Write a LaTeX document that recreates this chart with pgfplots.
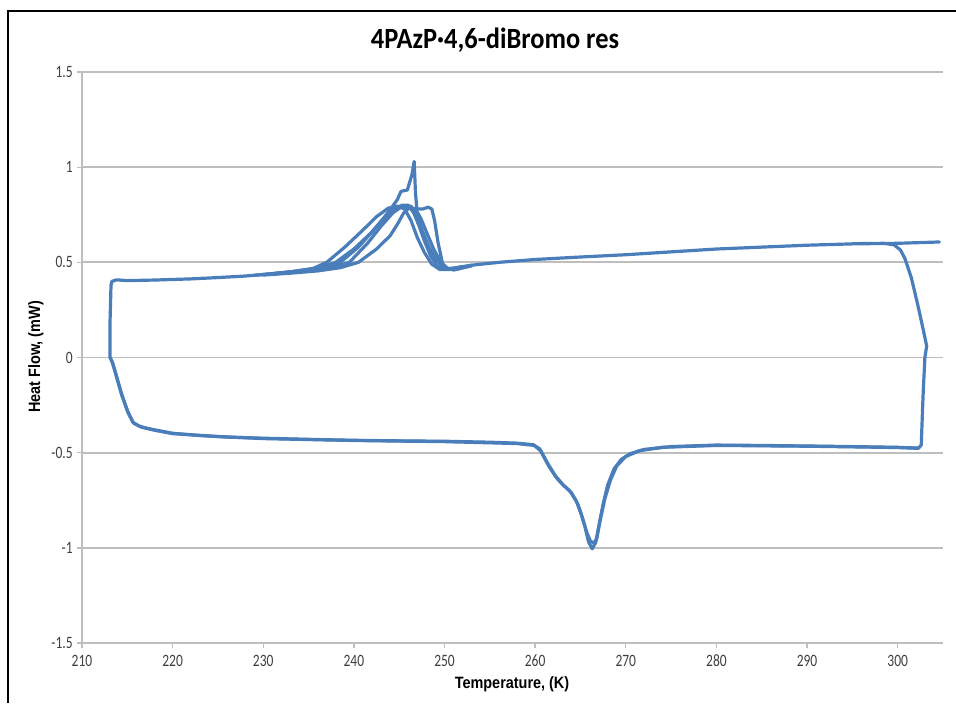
\documentclass[border=0pt]{standalone}
\usepackage{pgfplots}
\pgfplotsset{compat=1.18}
\usepackage{fontspec}
\setmainfont{Carlito}
\newfontfamily\ticksf{Carlito}[FakeStretch=0.78]
\newfontfamily\titlef{Carlito}[FakeStretch=0.9]
\newfontfamily\arialb{Liberation Sans}[FakeStretch=0.88]
\definecolor{lineblue}{RGB}{74,126,187}
\definecolor{gridgray}{RGB}{190,190,190}
\begin{document}
\begin{tikzpicture}
\begin{scope}[x=0.75pt,y=-0.75pt]
\useasboundingbox (0,0) rectangle (956,703);
\draw[black,line width=1.3pt] (8,703) -- (8,11) -- (956,11);
\node[font=\titlef\bfseries\fontsize{22}{26}\selectfont] at (495,40) {4PAzP·4,6-diBromo res};
\node[font=\arialb\bfseries\fontsize{12.3}{14}\selectfont] at (512,684) {Temperature, (K)};
\node[font=\arialb\bfseries\fontsize{12.3}{14}\selectfont,rotate=90] at (36,357) {Heat Flow, (mW)};
\end{scope}
\begin{axis}[
  at={(61.5pt,-482.25pt)}, anchor=south west,
  scale only axis, width=645.75pt, height=428.25pt,
  xmin=210, xmax=305, ymin=-1.5, ymax=1.5,
  xtick={210,220,...,300},
  xticklabels={210,220,230,240,250,260,270,280,290,300},
  ytick={-1.5,-1,-0.5,0,0.5,1,1.5},
  yticklabels={-1.5,-1,-0.5,0,0.5,1,1.5},
  axis x line*=bottom, axis y line*=left,
  axis line style={gridgray,line width=1.3pt,-},
  ymajorgrids, grid style={gridgray,line width=1.3pt},
  tick align=outside, major tick length=3.5pt,
  tick style={gridgray,line width=1pt},
  ticklabel style={font=\ticksf\fontsize{13}{15}\selectfont,text=black!75},
  xticklabel style={yshift=-2pt},
  clip=false,
  every axis plot post/.append style={lineblue,line width=2.4pt,line join=round,line cap=round,mark=none,solid},
]
% main cycle
\addplot coordinates {
(304.6,0.607)(300,0.600)(295,0.597)(290,0.590)(285,0.580)(280,0.570)(275,0.555)(270,0.540)(265,0.528)(260,0.515)(256,0.500)(253,0.485)(251,0.470)(250,0.465)
(249.2,0.48)(248.5,0.53)(247.8,0.61)(247.2,0.69)(246.6,0.76)(246.0,0.80)(245.3,0.80)(244.4,0.78)(243.3,0.73)(242,0.66)(240.5,0.58)(238.5,0.50)
(237,0.480)(235,0.462)(233,0.450)(231,0.440)(228,0.428)(225,0.420)(222,0.413)(218,0.407)(215,0.404)(213.8,0.408)(213.3,0.400)(213.2,0.38)(213.1,0.20)(213.1,0.00)
(213.3,-0.02)(213.7,-0.08)(214.3,-0.18)(215,-0.28)(215.6,-0.34)(216.3,-0.36)(217,-0.370)(218,-0.380)(220,-0.398)(223,-0.410)(226,-0.418)(230,-0.424)(235,-0.430)(240,-0.435)(245,-0.438)(250,-0.440)(255,-0.445)(258,-0.450)(259.8,-0.458)
(260.5,-0.48)(261.3,-0.55)(262.2,-0.62)(263,-0.665)(263.8,-0.70)(264.5,-0.75)(265,-0.81)(265.5,-0.89)(265.9,-0.97)(266.3,-1.005)(266.7,-0.97)(267.0,-0.89)(267.5,-0.77)(268,-0.67)(268.7,-0.585)(269.5,-0.535)(270.5,-0.505)(272,-0.483)(275,-0.468)(280,-0.460)(285,-0.462)(290,-0.465)(295,-0.468)(300,-0.472)(302.3,-0.476)
(302.6,-0.46)(302.8,-0.20)(303.0,0.00)(303.2,0.06)(302.8,0.15)(302.2,0.28)(301.5,0.42)(300.8,0.52)(300.3,0.565)(299.6,0.592)(298.5,0.600)(295,0.598)
};
% second cycle (bottom branch variant)
\addplot coordinates {
(213.1,0.00)(213.4,-0.03)(213.8,-0.10)(214.4,-0.20)(215.1,-0.29)(215.7,-0.345)(216.5,-0.365)(218,-0.382)(220,-0.400)(225,-0.415)(230,-0.426)(240,-0.436)(250,-0.442)(258,-0.452)(259.9,-0.462)
(260.6,-0.49)(261.5,-0.57)(262.4,-0.635)(263.2,-0.675)(264,-0.71)(264.7,-0.77)(265.2,-0.84)(265.7,-0.92)(266.1,-0.965)(266.5,-0.975)(266.8,-0.95)(267.2,-0.85)(267.7,-0.74)(268.3,-0.645)(269,-0.57)(270,-0.52)(271.5,-0.49)(274,-0.472)(280,-0.462)(290,-0.466)(300,-0.473)(302.3,-0.477)
};
% peak variants (other cycles)
\addplot coordinates {
(253,0.485)(251.5,0.470)(250.3,0.467)(249.8,0.49)(249.3,0.60)(248.9,0.72)(248.6,0.78)(248.2,0.79)(247.6,0.78)(246.95,0.78)(246.8,0.86)(246.65,1.03)(246.4,0.96)(245.9,0.88)(245.2,0.873)(244.8,0.83)(244.2,0.79)(243.4,0.74)(242,0.66)(240,0.57)(238,0.50)(236,0.470)(234,0.455)(231,0.440)
};
\addplot coordinates {
(252,0.478)(250.5,0.462)(249.5,0.462)(248.6,0.49)(247.8,0.55)(247,0.63)(246.3,0.72)(245.6,0.78)(244.8,0.795)(243.8,0.785)(242.5,0.74)(241,0.67)(239,0.58)(237,0.50)(235.5,0.468)(233,0.450)(230,0.436)
};
\addplot coordinates {
(253,0.483)(251.2,0.462)(250.4,0.465)(249.6,0.50)(248.8,0.57)(248.0,0.66)(247.4,0.73)(246.8,0.78)(246.2,0.79)(245.5,0.76)(244.8,0.70)(244,0.64)(242.5,0.57)(240.5,0.50)(238.5,0.472)(236,0.455)(233,0.443)(230,0.433)
};
\addplot coordinates {
(253,0.482)(251,0.460)(249.8,0.475)(249.0,0.52)(248.3,0.58)(247.6,0.66)(247.0,0.74)(246.3,0.795)(245.2,0.79)(244.3,0.76)(243,0.69)(241.5,0.60)(239.5,0.50)(237.5,0.472)(235,0.458)(232,0.444)(229,0.432)
};
\end{axis}
\end{tikzpicture}
\end{document}
